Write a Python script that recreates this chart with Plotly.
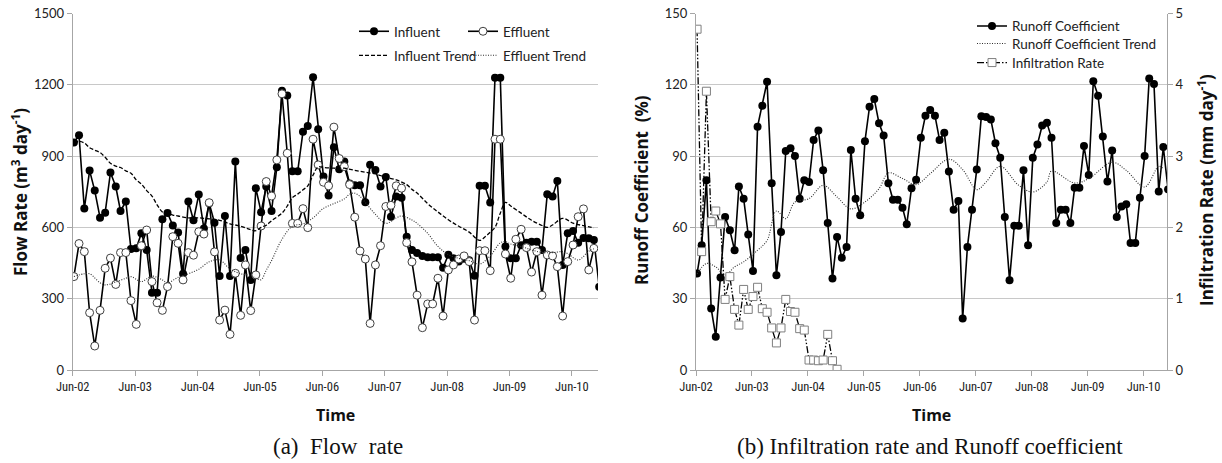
import pandas as pd
import plotly.graph_objects as go

W, H = 1222, 463

# ---------------- data (monthly, starting Jun 2002) ----------------
start_month = "2002-06-01"
influent = [957, 988, 679, 839, 755, 641, 662, 831, 772, 669, 709, 509, 512, 575, 505, 325, 325, 634, 661, 608,
            579, 405, 709, 630, 738, 595, 702, 620, 396, 648, 396, 877, 471, 505, 379, 765, 664, 772, 669, 853,
            1175, 1155, 836, 836, 1002, 1027, 1232, 1013, 814, 734, 937, 845, 877, 785, 777, 777, 706, 864, 842, 772,
            812, 645, 730, 725, 561, 505, 492, 480, 474, 474, 474, 430, 485, 470, 456, 468, 462, 397, 775, 775,
            705, 1230, 1230, 520, 470, 470, 525, 535, 540, 540, 505, 740, 730, 795, 442, 575, 585, 535, 555, 554,
            547, 350]
effluent = [393, 532, 498, 241, 101, 251, 428, 471, 360, 494, 494, 292, 192, 523, 589, 372, 283, 251, 351, 561,
            533, 379, 494, 483, 582, 572, 704, 497, 210, 252, 150, 407, 230, 442, 250, 400, 606, 793, 732, 884,
            1162, 912, 617, 617, 679, 599, 971, 863, 790, 775, 1022, 890, 856, 780, 643, 501, 467, 196, 442, 523,
            688, 693, 775, 765, 536, 455, 315, 178, 278, 278, 386, 227, 421, 442, 467, 480, 456, 210, 502, 502,
            418, 971, 971, 488, 386, 550, 592, 515, 412, 498, 315, 484, 480, 435, 227, 456, 526, 645, 678, 421,
            512]
influent_trend_month = [0, 1, 2, 3, 4, 5, 6, 7, 8, 9, 10, 11, 12, 13, 14, 15, 16, 17, 18, 19, 20, 22, 24, 26, 28,
                        30, 32, 34, 35, 36, 37, 38, 40, 41, 42, 43, 44, 45, 46, 47, 48, 50, 52, 54, 56, 58, 60, 62,
                        64, 65, 66, 68, 70, 72, 74, 76, 78, 79, 80, 81, 82, 83, 84, 86, 88, 90, 91, 92, 94, 96, 98,
                        100]
influent_trend = [956, 962, 955, 935, 925, 915, 895, 870, 858, 852, 838, 828, 800, 782, 755, 732, 695, 665, 658,
                  652, 648, 640, 640, 636, 630, 615, 605, 590, 586, 600, 609, 628, 660, 690, 725, 740, 758, 775,
                  820, 855, 852, 849, 849, 840, 832, 825, 811, 800, 780, 760, 745, 700, 665, 632, 605, 580, 545,
                  560, 580, 600, 660, 705, 690, 660, 630, 608, 600, 610, 638, 618, 607, 598]
effluent_trend_month = [0, 2, 3, 5, 6, 8, 10, 11, 13, 15, 17, 18, 20, 22, 24, 26, 28, 30, 32, 34, 35, 36, 37, 38,
                        40, 42, 44, 46, 48, 50, 52, 53, 54, 55, 56, 58, 60, 62, 63, 65, 66, 68, 70, 72, 74, 76, 78,
                        80, 82, 83, 84, 86, 88, 90, 92, 94, 95, 97, 99, 100]
effluent_trend = [393, 405, 405, 367, 358, 370, 386, 393, 372, 395, 379, 367, 390, 405, 424, 455, 463, 425, 405,
                  398, 386, 380, 420, 460, 550, 605, 615, 640, 680, 700, 720, 740, 744, 730, 705, 655, 617, 640,
                  648, 631, 617, 575, 520, 485, 470, 460, 446, 480, 535, 540, 530, 520, 505, 495, 494, 498, 490,
                  463, 500, 510]

runoff = [40.6, 52.5, 79.8, 25.9, 14.0, 38.9, 64.4, 58.8, 50.4, 77.2, 72.1, 57.0, 41.7, 102.4, 111.2, 121.3, 78.6,
          39.9, 58.1, 92.1, 93.3, 90.0, 72.1, 79.8, 79.1, 96.8, 100.8, 84.0, 61.8, 38.5, 56.0, 47.2, 51.8, 92.6,
          72.1, 65.1, 96.3, 110.8, 114.0, 103.8, 98.7, 78.6, 71.6, 71.6, 68.3, 61.3, 76.5, 80.0, 97.7, 107.0, 109.4,
          107.0, 96.8, 99.8, 83.5, 67.4, 71.1, 21.7, 51.8, 67.4, 84.4, 106.8, 106.4, 105.4, 95.4, 89.3, 64.4, 37.8,
          60.7, 60.7, 84.0, 52.5, 89.3, 94.9, 102.9, 104.0, 97.7, 61.8, 67.4, 67.4, 61.8, 76.7, 76.7, 94.2, 82.1,
          121.5, 115.4, 98.2, 79.3, 92.4, 64.4, 68.8, 69.7, 53.4, 53.4, 72.5, 90.0, 122.7, 120.3, 75.1, 93.8, 76.0]
runoff_trend_month = [0, 2, 4, 6, 8, 10, 13, 15, 17, 19, 21, 24, 27, 30, 33, 36, 39, 41, 44, 47, 50, 54, 57, 60,
                      62, 65, 69, 72, 75, 76, 81, 84, 89, 92, 96, 99, 100]
runoff_trend = [40.4, 44.8, 43.4, 39.9, 43.4, 45.5, 50.4, 54.5, 66.9, 63.7, 70.7, 72.1, 77.7, 72.8, 67.8, 70.7,
                76.3, 82.9, 80.6, 78.0, 82.6, 88.7, 84.3, 75.9, 79.1, 85.7, 77.7, 74.9, 79.1, 83.7, 78.7, 80.5,
                87.4, 84.0, 77.0, 85.7, 84.7]
infiltration = [4.78, 1.66, 3.91, 2.08, 2.23, 2.05, 0.99, 1.31, 0.85, 0.63, 1.13, 0.85, 1.03, 1.16, 0.86, 0.81,
                0.59, 0.38, 0.59, 0.99, 0.82, 0.81, 0.58, 0.56, 0.14, 0.14, 0.13, 0.14, 0.50, 0.13, 0.01]

x_range = ["2002-06-01", "2010-11-01"]
flow_ticks = [0, 300, 600, 900, 1200, 1500]


def month_dates(n_or_offsets):
    base = pd.Timestamp(start_month)
    offs = range(n_or_offsets) if isinstance(n_or_offsets, int) else n_or_offsets
    return [(base + pd.DateOffset(months=int(m)) + pd.Timedelta(days=7)).strftime("%Y-%m-%d") for m in offs]


def px_x(p):
    return p / W


def px_y(p):
    return (H - p) / H


# ---------------- figure ----------------
fig = go.Figure()
BLACK = "#000000"
LEGFONT = dict(family="Lato, Carlito, sans-serif", size=13.5, color="#222222")

fig.add_trace(go.Scatter(x=month_dates(len(influent)), y=influent, name="Influent", mode="lines+markers",
                         line=dict(color=BLACK, width=1.6), marker=dict(size=8, color=BLACK),
                         xaxis="x", yaxis="y", legend="legend"))
fig.add_trace(go.Scatter(x=month_dates(len(effluent)), y=effluent, name="Effluent", mode="lines+markers",
                         line=dict(color=BLACK, width=1.6),
                         marker=dict(size=8, color="white", line=dict(color="#404040", width=1)),
                         xaxis="x", yaxis="y", legend="legend2"))
fig.add_trace(go.Scatter(x=month_dates(influent_trend_month), y=influent_trend, name="Influent Trend",
                         mode="lines", line=dict(color=BLACK, width=1.3, dash="4px,2px", shape="spline"),
                         xaxis="x", yaxis="y", legend="legend4"))
fig.add_trace(go.Scatter(x=month_dates(effluent_trend_month), y=effluent_trend, name="Effluent Trend",
                         mode="lines", line=dict(color="#303030", width=1.1, dash="1px,1.5px", shape="spline"),
                         xaxis="x", yaxis="y", legend="legend5"))

fig.add_trace(go.Scatter(x=month_dates(len(runoff)), y=runoff, name="Runoff Coefficient", mode="lines+markers",
                         line=dict(color=BLACK, width=1.6), marker=dict(size=8, color=BLACK),
                         xaxis="x2", yaxis="y2", legend="legend3"))
fig.add_trace(go.Scatter(x=month_dates(runoff_trend_month), y=runoff_trend, name="Runoff Coefficient Trend",
                         mode="lines", line=dict(color="#303030", width=1.1, dash="1px,1.5px", shape="spline"),
                         xaxis="x2", yaxis="y2", legend="legend6"))
fig.add_trace(go.Scatter(x=month_dates(len(infiltration)), y=infiltration, name="Infiltration Rate",
                         mode="lines+markers",
                         line=dict(color=BLACK, width=1.3, dash="7px,2px,1.5px,2px,1.5px,2px"),
                         marker=dict(size=8, symbol="square", color="white", line=dict(color="#7f7f7f", width=1)),
                         xaxis="x2", yaxis="y3", legend="legend7"))

GRID = "#c8c8c8"
AXL = "#a6a6a6"
tickfont = dict(family="Lato, Carlito, sans-serif", size=13, color="#222222")
xtickfont = dict(family="Liberation Sans Narrow, Arial Narrow, Roboto Condensed, sans-serif", size=12.5,
                 color="#222222")

xcommon = dict(type="date", range=x_range, tick0="2002-06-01", dtick="M12", tickformat="%b-%y",
               showgrid=False, showline=True, linecolor=AXL, linewidth=1, ticks="outside", ticklen=5,
               tickcolor=AXL, tickfont=xtickfont, zeroline=False, fixedrange=True, automargin=False)
ycommon = dict(showgrid=True, gridcolor=GRID, gridwidth=1, showline=True, linecolor=AXL, linewidth=1,
               ticks="outside", ticklen=5, tickcolor=AXL, tickfont=tickfont, zeroline=False, fixedrange=True,
               automargin=False)


def leg(xp, yp):
    return dict(orientation="h", x=px_x(xp), y=px_y(yp), xanchor="left", yanchor="top",
                bgcolor="rgba(0,0,0,0)", font=LEGFONT, tracegroupgap=0)


fig.update_layout(
    width=W, height=H,
    margin=dict(l=0, r=0, t=0, b=0, pad=0, autoexpand=False),
    paper_bgcolor="white", plot_bgcolor="white",
    showlegend=True,
    hovermode=False,
    xaxis=dict(domain=[px_x(72.7), px_x(598)], anchor="y", **xcommon),
    yaxis=dict(domain=[px_y(370), px_y(13.5)], anchor="x", range=[0, 1500], tickvals=flow_ticks, **ycommon),
    xaxis2=dict(domain=[px_x(696), px_x(1167)], anchor="y2", **xcommon),
    yaxis2=dict(domain=[px_y(370), px_y(13.5)], anchor="x2", range=[0, 150], dtick=30, **ycommon),
    yaxis3=dict(overlaying="y2", side="right", anchor="x2", range=[0, 5], dtick=1, showgrid=False,
                showline=True, linecolor=AXL, linewidth=1, ticks="outside", ticklen=5, tickcolor=AXL,
                tickfont=tickfont, zeroline=False, fixedrange=True, automargin=False),
    legend=leg(354, 16),
    legend2=leg(463, 16),
    legend4=leg(354, 40),
    legend5=leg(463, 40),
    legend3=leg(972, 10.7),
    legend6=leg(972, 28.3),
    legend7=leg(972, 47.3),
)

title_font = dict(family="Open Sans, Lato, sans-serif", size=17, color="#111111", weight="bold")
annos = [
    dict(text="Flow Rate (m<sup>3</sup> day<sup>-1</sup>)", x=px_x(19), y=px_y(192), textangle=-90),
    dict(text="Runoff Coefficient  (%)", x=px_x(641), y=px_y(190), textangle=-90),
    dict(text="Infiltration Rate (mm day<sup>-1</sup>)", x=px_x(1205), y=px_y(190), textangle=-90),
    dict(text="Time", x=px_x(335), y=px_y(415), font=dict(title_font, size=16)),
    dict(text="Time", x=px_x(931.5), y=px_y(415), font=dict(title_font, size=16)),
]
for a in annos:
    a.setdefault("font", title_font)
    fig.add_annotation(xref="paper", yref="paper", showarrow=False, xanchor="center", yanchor="middle", **a)

cap_font = dict(family="Liberation Serif, DejaVu Serif, serif", size=23, color="#111111")
fig.add_annotation(text="(a)\u00a0 Flow\u00a0 rate", x=px_x(338), y=px_y(446.5), xref="paper", yref="paper",
                   showarrow=False, xanchor="center", yanchor="middle", font=cap_font)
fig.add_annotation(text="(b) Infiltration rate and Runoff coefficient", x=px_x(930), y=px_y(446.5),
                   xref="paper", yref="paper", showarrow=False, xanchor="center", yanchor="middle",
                   font=cap_font)

fig.write_html(
    "out.html",
    config={"displayModeBar": False, "staticPlot": False},
    post_script="document.documentElement.style.margin='0';document.body.style.margin='0';"
                "document.body.style.padding='0';document.body.style.overflow='hidden';",
)
